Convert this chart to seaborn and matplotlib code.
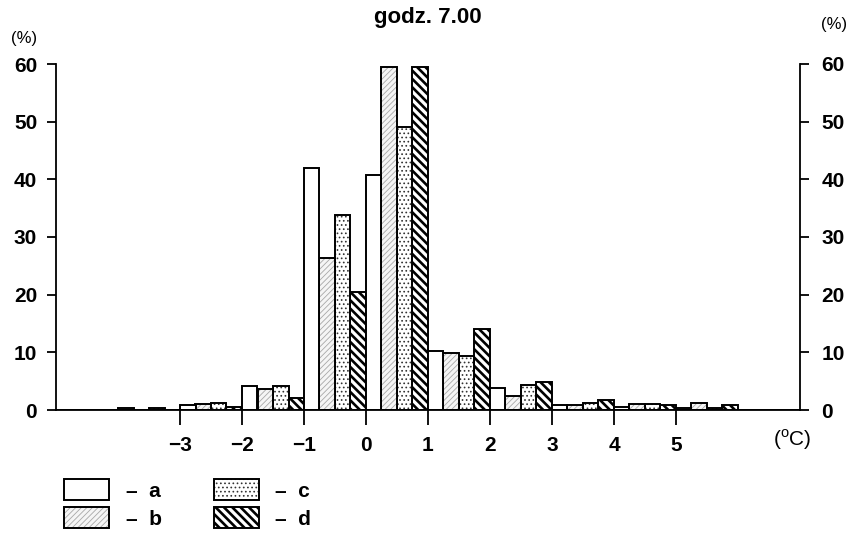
import numpy as np
import pandas as pd
import matplotlib
matplotlib.use("Agg")
import matplotlib.pyplot as plt
import matplotlib.patches as mpatches
import seaborn as sns

# ---- data (percent of cases per 1-degree class, four series a-d) ----
bin_left = [-4, -3, -2, -1, 0, 1, 2, 3, 4, 5]
series_a = [0.4, 0.8, 4.1, 42.0, 40.8, 10.2, 3.8, 0.8, 0.5, 0.3]
series_b = [0.0, 1.0, 3.6, 26.3, 59.5, 9.8, 2.5, 0.8, 1.0, 1.2]
series_c = [0.4, 1.2, 4.1, 33.9, 49.0, 9.3, 4.4, 1.2, 1.0, 0.3]
series_d = [0.0, 0.5, 2.1, 20.5, 59.5, 14.0, 4.8, 1.8, 0.8, 0.9]
series_names = ["a", "b", "c", "d"]
x_ticks = [-3, -2, -1, 0, 1, 2, 3, 4, 5]
y_ticks = [0, 10, 20, 30, 40, 50, 60]
title = "godz. 7.00"

rows = []
for name, vals in zip(series_names, [series_a, series_b, series_c, series_d]):
    for left, v in zip(bin_left, vals):
        if v > 0:
            rows.append({"temp": left + 0.5, "pct": v, "series": name})
df = pd.DataFrame(rows)

sns.set_style("ticks")
plt.rcParams["font.family"] = ["Liberation Sans", "DejaVu Sans"]
plt.rcParams["mathtext.fontset"] = "custom"
plt.rcParams["mathtext.rm"] = "Liberation Sans"
plt.rcParams["hatch.linewidth"] = 1.0
for k in ["text.color", "xtick.color", "ytick.color", "axes.labelcolor", "axes.edgecolor"]:
    plt.rcParams[k] = "black"

FS = 15
fig = plt.figure(figsize=(8.53, 5.36), dpi=100)
ax = fig.add_axes([56 / 853, 1 - 410 / 536, (800 - 56) / 853, (410 - 64) / 536])

sns.histplot(data=df, x="temp", weights="pct", hue="series", hue_order=series_names,
             binwidth=1, binrange=(-5, 7), multiple="dodge", shrink=1, element="bars",
             fill=True, palette=["white"] * 4, alpha=1, edgecolor="black", linewidth=1.4,
             legend=False, ax=ax)

styles = {
    0: dict(face="white", hatch=None, hcol=None, hlw=None),
    1: dict(face="#f5f5f5", hatch="//////", hcol=(0.66, 0.66, 0.66, 1), hlw=0.6),
    2: dict(face="white", hatch="....", hcol=(0.2, 0.2, 0.2, 1), hlw=0.7),
    3: dict(face="white", hatch="\\\\\\\\", hcol=(0, 0, 0, 1), hlw=1.9),
}


def apply_style(p, st):
    p.set_facecolor(st["face"])
    p.set_edgecolor("black")
    if st["hatch"]:
        p.set_hatch(st["hatch"])
        p._hatch_color = st["hcol"]
        if hasattr(p, "set_hatch_linewidth"):
            p.set_hatch_linewidth(st["hlw"])
        elif hasattr(p, "_hatch_linewidth"):
            p._hatch_linewidth = st["hlw"]


for p in ax.patches:
    x0 = p.get_x()
    idx = int(round((x0 - np.floor(x0 + 1e-6)) * 4)) % 4
    apply_style(p, styles[idx])

ax.set_xlim(-5, 7)
ax.set_ylim(0, 60)
ax.set_xticks(x_ticks)
ax.set_xticklabels([f"{t}".replace("-", "\u2212") for t in x_ticks], fontsize=FS,
                   fontweight="bold")
ax.set_yticks(y_ticks)
ax.set_yticklabels([str(t) for t in y_ticks], fontsize=FS, fontweight="bold")
ax.set_xlabel("")
ax.set_ylabel("")
ax.tick_params(axis="x", direction="out", length=11, width=1.3, pad=8)
ax.tick_params(axis="y", direction="out", length=6.5, width=1.3, pad=7)
for s in ["left", "bottom"]:
    ax.spines[s].set_linewidth(1.3)
ax.spines["top"].set_visible(False)
ax.spines["right"].set_visible(False)

ax2 = ax.twinx()
ax2.set_ylim(0, 60)
ax2.set_yticks(y_ticks)
ax2.set_yticklabels([str(t) for t in y_ticks], fontsize=FS, fontweight="bold")
ax2.tick_params(axis="y", direction="out", length=6.5, width=1.3, pad=9)
ax2.spines["right"].set_linewidth(1.3)
for s in ["left", "top", "bottom"]:
    ax2.spines[s].set_visible(False)

fig.text(428 / 853, 1 - 18 / 536, title, ha="center", va="center", fontsize=16,
         fontweight="bold")
fig.text(24 / 853, 1 - 38 / 536, "(%)", ha="center", va="center", fontsize=12)
fig.text(834 / 853, 1 - 25 / 536, "(%)", ha="center", va="center", fontsize=12)
fig.text(792 / 853, 1 - 440 / 536, r"($^{\rm o}$C)", ha="center", va="center", fontsize=FS)

handles = []
for i in range(4):
    st = styles[i]
    h = mpatches.Patch(facecolor=st["face"], edgecolor="black", linewidth=1.4,
                       hatch=st["hatch"])
    apply_style(h, st)
    handles.append(h)
labels = ["\u2013  " + n for n in series_names]
leg = fig.legend(handles, labels, loc="upper left",
                 bbox_to_anchor=(64 / 853, 1 - 479 / 536),
                 ncol=2, frameon=False, prop={"size": FS, "weight": "bold"},
                 handlelength=2.16, handleheight=1.2, handletextpad=0.8, columnspacing=2.5,
                 labelspacing=0.3, borderpad=0, borderaxespad=0)
for i, lp in enumerate(leg.get_patches()):
    apply_style(lp, styles[i])

fig.savefig("out.png", dpi=100)
